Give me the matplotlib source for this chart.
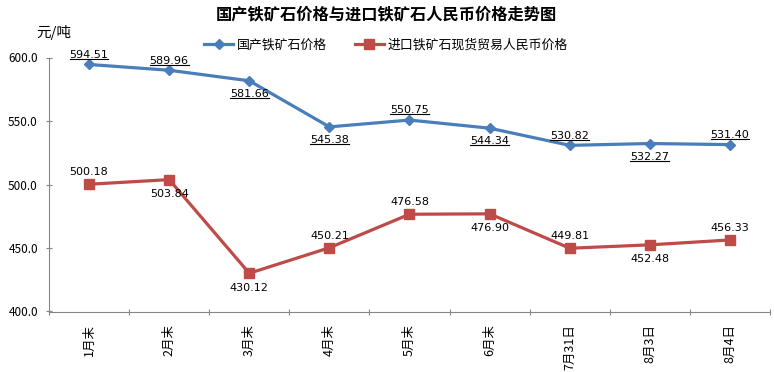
import matplotlib
matplotlib.use("Agg")
import matplotlib.pyplot as plt
from matplotlib.lines import Line2D

plt.rcParams['font.family'] = ['Noto Sans CJK SC', 'DejaVu Sans']

categories = ["1月末", "2月末", "3月末", "4月末", "5月末", "6月末", "7月31日", "8月3日", "8月4日"]
domestic = [594.51, 589.96, 581.66, 545.38, 550.75, 544.34, 530.82, 532.27, 531.40]
imported = [500.18, 503.84, 430.12, 450.21, 476.58, 476.90, 449.81, 452.48, 456.33]
dom_pos = ["above", "above", "below", "below", "above", "below", "above", "below", "above"]
imp_pos = ["above", "below", "below", "above", "above", "below", "above", "below", "above"]
yticks = [400.0, 450.0, 500.0, 550.0, 600.0]

blue = "#4A7EBB"
red = "#BE4B48"

fig = plt.figure(figsize=(7.74, 3.72), dpi=100)
ax = fig.add_axes([49/774, 1-311.5/372, (770-49)/774, (311.5-57.5)/372])

x = list(range(len(categories)))
ax.plot(x, domestic, color=blue, lw=2.3, marker="D", ms=5.5, mfc=blue, mec=blue,
        label="国产铁矿石价格", clip_on=False, zorder=3)
ax.plot(x, imported, color=red, lw=2.3, marker="s", ms=7.5, mfc=red, mec=red,
        label="进口铁矿石现货贸易人民币价格", clip_on=False, zorder=3)

ax.set_xlim(-0.5, len(categories) - 0.5)
ax.set_ylim(400, 600)
ax.set_yticks(yticks)
ax.set_yticklabels([f"{v:.1f}" for v in yticks], fontsize=8.5)
ax.set_xticks([i + 0.5 for i in range(-1, len(categories))], minor=False)
ax.set_xticklabels([])
ax.set_xticks(x, minor=True)
ax.set_xticklabels(categories, minor=True, rotation=90, fontsize=9)
ax.tick_params(axis="x", which="minor", length=0, pad=9)
ax.tick_params(axis="x", which="major", length=4, direction="inout", color="#868686")
ax.tick_params(axis="y", length=4, direction="inout", color="#868686", pad=6)
for s in ["top", "right"]:
    ax.spines[s].set_visible(False)
for s in ["left", "bottom"]:
    ax.spines[s].set_color("#868686")

dom_texts = []
for xi, v, p in zip(x, domestic, dom_pos):
    off = 7 if p == "above" else -9.5
    t = ax.annotate(f"{v:.2f}", (xi, v), xytext=(0, off), textcoords="offset points",
                    ha="center", va="center", fontsize=8, family="DejaVu Sans")
    dom_texts.append(t)
for xi, v, p in zip(x, imported, imp_pos):
    off = 8.5 if p == "above" else -10.5
    ax.annotate(f"{v:.2f}", (xi, v), xytext=(0, off), textcoords="offset points",
                ha="center", va="center", fontsize=8, family="DejaVu Sans")

fig.text(386/774, 1-14/372, "国产铁矿石价格与进口铁矿石人民币价格走势图", ha="center", va="center",
         fontsize=11.7, fontweight="bold")
fig.text(36/774, 1-32/372, "元/吨", ha="left", va="center", fontsize=10.5)

leg = fig.legend(loc="center", bbox_to_anchor=(386/774, 1-45/372), ncol=2, frameon=False,
                 fontsize=9.3, handlelength=2.2, columnspacing=2.2, handletextpad=0.3)

fig.canvas.draw()
r = fig.canvas.get_renderer()
for t in dom_texts:
    bb = t.get_window_extent(r)
    y = bb.y0 + 1
    fig.add_artist(Line2D([bb.x0 / fig.bbox.width, bb.x1 / fig.bbox.width],
                          [y / fig.bbox.height, y / fig.bbox.height],
                          color="black", lw=0.8, transform=fig.transFigure))

fig.savefig("out.png", dpi=100)
